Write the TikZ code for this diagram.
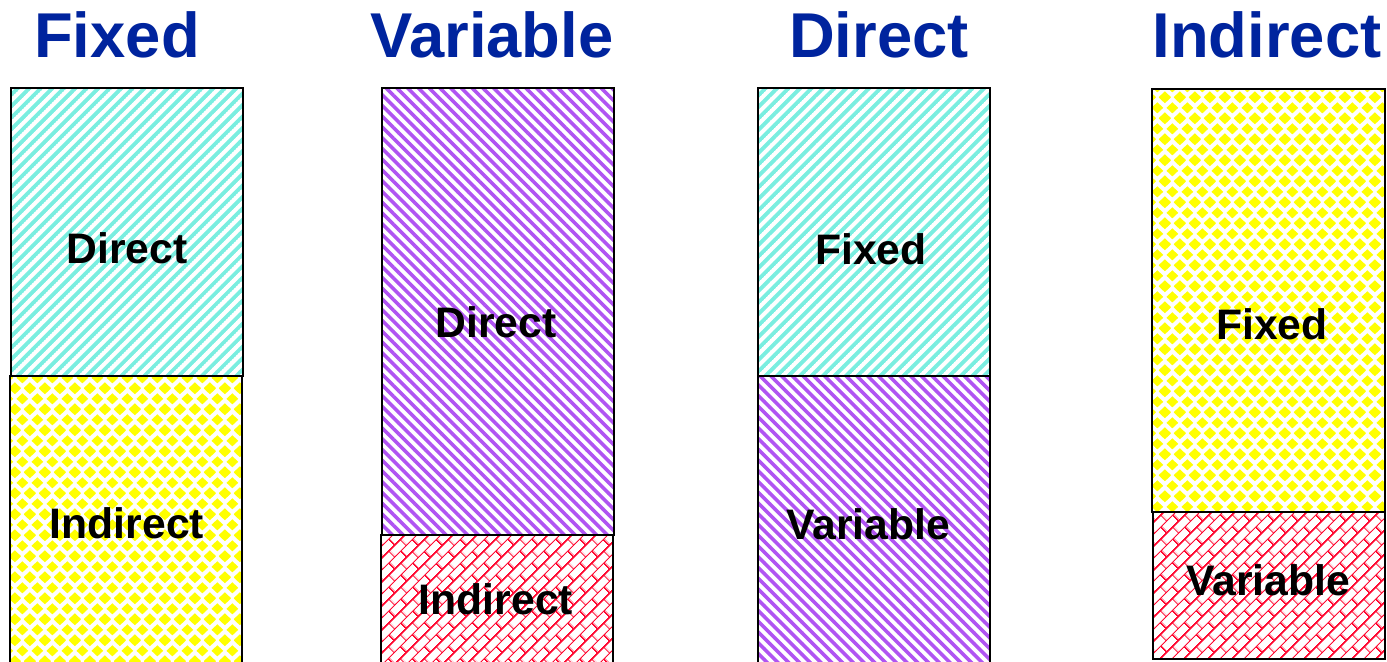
\documentclass[tikz,border=0pt]{standalone}
\usepackage{fontspec}
\setmainfont{Liberation Sans}
\usetikzlibrary{patterns,patterns.meta}
\definecolor{titleblue}{RGB}{0,36,158}
\definecolor{cyanC}{RGB}{122,238,224}
\definecolor{purpleC}{RGB}{176,84,242}
\definecolor{yellowC}{RGB}{255,255,0}
\definecolor{redC}{RGB}{255,10,50}

\pgfdeclarepattern{
  name=stripesNE, type=uncolored,
  bottom left={\pgfpoint{-0.1pt}{0pt}},
  top right={\pgfpoint{6.2pt}{6.1pt}},
  tile size={\pgfpoint{6.1pt}{6.1pt}},
  tile transformation={\pgftransformrotate{45}},
  code={\pgfpathrectangle{\pgfpoint{-0.1pt}{0pt}}{\pgfpoint{6.3pt}{2.9pt}}\pgfusepath{fill}}
}
\pgfdeclarepattern{
  name=stripesNW, type=uncolored,
  bottom left={\pgfpoint{-0.1pt}{0pt}},
  top right={\pgfpoint{5.8pt}{5.7pt}},
  tile size={\pgfpoint{5.7pt}{5.7pt}},
  tile transformation={\pgftransformrotate{-45}},
  code={\pgfpathrectangle{\pgfpoint{-0.1pt}{0pt}}{\pgfpoint{5.9pt}{2.7pt}}\pgfusepath{fill}}
}
\pgfdeclarepattern{
  name=diamonds, type=uncolored,
  bottom left={\pgfpoint{0pt}{0pt}},
  top right={\pgfpoint{11.5pt}{15.5pt}},
  tile size={\pgfpoint{11.5pt}{15.5pt}},
  code={
    \pgfpathmoveto{\pgfpoint{5.75pt}{3.55pt}}
    \pgfpathlineto{\pgfpoint{10.35pt}{7.75pt}}
    \pgfpathlineto{\pgfpoint{5.75pt}{11.95pt}}
    \pgfpathlineto{\pgfpoint{1.15pt}{7.75pt}}
    \pgfpathclose
    \pgfpathmoveto{\pgfpoint{0pt}{-4.2pt}}
    \pgfpathlineto{\pgfpoint{4.6pt}{0pt}}
    \pgfpathlineto{\pgfpoint{0pt}{4.2pt}}
    \pgfpathlineto{\pgfpoint{-4.6pt}{0pt}}
    \pgfpathclose
    \pgfpathmoveto{\pgfpoint{11.5pt}{-4.2pt}}
    \pgfpathlineto{\pgfpoint{16.1pt}{0pt}}
    \pgfpathlineto{\pgfpoint{11.5pt}{4.2pt}}
    \pgfpathlineto{\pgfpoint{6.9pt}{0pt}}
    \pgfpathclose
    \pgfpathmoveto{\pgfpoint{0pt}{11.3pt}}
    \pgfpathlineto{\pgfpoint{4.6pt}{15.5pt}}
    \pgfpathlineto{\pgfpoint{0pt}{19.7pt}}
    \pgfpathlineto{\pgfpoint{-4.6pt}{15.5pt}}
    \pgfpathclose
    \pgfpathmoveto{\pgfpoint{11.5pt}{11.3pt}}
    \pgfpathlineto{\pgfpoint{16.1pt}{15.5pt}}
    \pgfpathlineto{\pgfpoint{11.5pt}{19.7pt}}
    \pgfpathlineto{\pgfpoint{6.9pt}{15.5pt}}
    \pgfpathclose
    \pgfusepath{fill}}
}
\pgfdeclarepattern{
  name=bricks, type=uncolored,
  bottom left={\pgfpoint{0pt}{0pt}},
  top right={\pgfpoint{13pt}{13pt}},
  tile size={\pgfpoint{13pt}{13pt}},
  tile transformation={\pgftransformrotate{45}},
  code={
    \pgfsetlinewidth{0.9pt}
    \pgfpathmoveto{\pgfpoint{-1pt}{0pt}}\pgfpathlineto{\pgfpoint{14pt}{0pt}}
    \pgfpathmoveto{\pgfpoint{-1pt}{6.5pt}}\pgfpathlineto{\pgfpoint{14pt}{6.5pt}}
    \pgfpathmoveto{\pgfpoint{-1pt}{13pt}}\pgfpathlineto{\pgfpoint{14pt}{13pt}}
    \pgfpathmoveto{\pgfpoint{0pt}{0pt}}\pgfpathlineto{\pgfpoint{0pt}{6.5pt}}
    \pgfpathmoveto{\pgfpoint{13pt}{0pt}}\pgfpathlineto{\pgfpoint{13pt}{6.5pt}}
    \pgfpathmoveto{\pgfpoint{6.5pt}{6.5pt}}\pgfpathlineto{\pgfpoint{6.5pt}{13pt}}
    \pgfusepath{stroke}}
}

\tikzset{
  boxline/.style={draw=black, line width=2pt},
  fixedD/.style={boxline, pattern=stripesNE, pattern color=cyanC},
  varD/.style={boxline, pattern=stripesNW, pattern color=purpleC},
  fixedI/.style={boxline, pattern=diamonds, pattern color=yellowC},
  varI/.style={boxline, pattern=bricks, pattern color=redC},
  title/.style={text=titleblue, font=\fontsize{47.5}{52}\selectfont\bfseries, anchor=base, inner sep=0pt},
  lab/.style={text=black, font=\fontsize{32}{36}\selectfont\bfseries, inner sep=0pt}
}

\begin{document}
\begin{tikzpicture}[x=0.75pt, y=-0.75pt]
\fill[white] (0,0) rectangle (1387,661);
\useasboundingbox (0,0) rectangle (1387,661);

% titles
\node[title] (t1) at (117,57) {Fixed};
\node[title] (t2) at (492,57) {Variable};
\node[title] (t3) at (879,57) {Direct};
\node[title] (t4) at (1267,57) {Indirect};

% column 1: Fixed
\path[fixedI] (10,376) rectangle (242,668);
\path[fixedD] (11,88) rectangle (243,376);
\node[lab] (c1a) at (127,248) {Direct};
\node[lab] (c1b) at (127,523) {Indirect};

% column 2: Variable
\path[varI] (381,535) rectangle (613,668);
\path[varD] (382,88) rectangle (614,535);
\node[lab] (c2a) at (496,322) {Direct};
\node[lab] (c2b) at (496,599) {Indirect};

% column 3: Direct
\path[varD] (758,376) rectangle (990,668);
\path[fixedD] (758,88) rectangle (990,376);
\node[lab] (c3a) at (871,249) {Fixed};
\node[lab] (c3b) at (868,524) {Variable};

% column 4: Indirect
\path[varI] (1153,512) rectangle (1385,659);
\path[fixedI] (1152,89) rectangle (1385,512);
\node[lab] (c4a) at (1272,324) {Fixed};
\node[lab] (c4b) at (1268,580) {Variable};
\end{tikzpicture}
\end{document}
